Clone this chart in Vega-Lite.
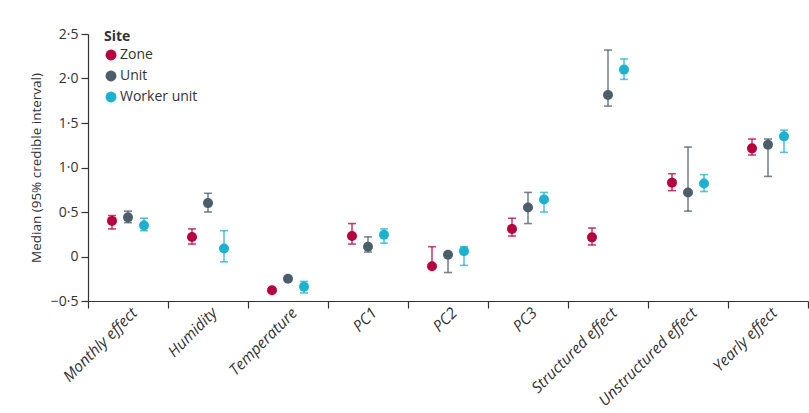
{
  "$schema": "https://vega.github.io/schema/vega-lite/v6.json",
  "autosize": "none",
  "width": 720,
  "height": 267,
  "padding": {"left": 88, "top": 34, "right": 1, "bottom": 112},
  "background": "white",
  "config": {
    "font": "Open Sans",
    "view": {"stroke": null},
    "axis": {"grid": false, "domainColor": "#333333", "tickColor": "#333333", "labelColor": "#333333", "titleColor": "#333333", "domainWidth": 1.2, "tickWidth": 1.2}
  },
  "data": {
    "values": [
      {"cat": "Monthly effect", "site": "Zone", "m": 0.40, "lo": 0.31, "hi": 0.46},
      {"cat": "Monthly effect", "site": "Unit", "m": 0.44, "lo": 0.38, "hi": 0.51},
      {"cat": "Monthly effect", "site": "Worker unit", "m": 0.35, "lo": 0.29, "hi": 0.43},
      {"cat": "Humidity", "site": "Zone", "m": 0.22, "lo": 0.14, "hi": 0.31},
      {"cat": "Humidity", "site": "Unit", "m": 0.60, "lo": 0.50, "hi": 0.71},
      {"cat": "Humidity", "site": "Worker unit", "m": 0.09, "lo": -0.06, "hi": 0.29},
      {"cat": "Temperature", "site": "Zone", "m": -0.38, "lo": -0.40, "hi": -0.36},
      {"cat": "Temperature", "site": "Unit", "m": -0.25, "lo": -0.27, "hi": -0.23},
      {"cat": "Temperature", "site": "Worker unit", "m": -0.34, "lo": -0.41, "hi": -0.28},
      {"cat": "PC1", "site": "Zone", "m": 0.23, "lo": 0.14, "hi": 0.37},
      {"cat": "PC1", "site": "Unit", "m": 0.11, "lo": 0.05, "hi": 0.22},
      {"cat": "PC1", "site": "Worker unit", "m": 0.245, "lo": 0.15, "hi": 0.31},
      {"cat": "PC2", "site": "Zone", "m": -0.11, "lo": -0.13, "hi": 0.11},
      {"cat": "PC2", "site": "Unit", "m": 0.02, "lo": -0.18, "hi": 0.04},
      {"cat": "PC2", "site": "Worker unit", "m": 0.06, "lo": -0.10, "hi": 0.11},
      {"cat": "PC3", "site": "Zone", "m": 0.31, "lo": 0.23, "hi": 0.43},
      {"cat": "PC3", "site": "Unit", "m": 0.55, "lo": 0.37, "hi": 0.72},
      {"cat": "PC3", "site": "Worker unit", "m": 0.64, "lo": 0.50, "hi": 0.72},
      {"cat": "Structured effect", "site": "Zone", "m": 0.215, "lo": 0.13, "hi": 0.32},
      {"cat": "Structured effect", "site": "Unit", "m": 1.815, "lo": 1.69, "hi": 2.32},
      {"cat": "Structured effect", "site": "Worker unit", "m": 2.10, "lo": 1.99, "hi": 2.22},
      {"cat": "Unstructured effect", "site": "Zone", "m": 0.83, "lo": 0.74, "hi": 0.93},
      {"cat": "Unstructured effect", "site": "Unit", "m": 0.72, "lo": 0.51, "hi": 1.23},
      {"cat": "Unstructured effect", "site": "Worker unit", "m": 0.82, "lo": 0.73, "hi": 0.92},
      {"cat": "Yearly effect", "site": "Zone", "m": 1.215, "lo": 1.14, "hi": 1.32},
      {"cat": "Yearly effect", "site": "Unit", "m": 1.256, "lo": 0.90, "hi": 1.32},
      {"cat": "Yearly effect", "site": "Worker unit", "m": 1.35, "lo": 1.17, "hi": 1.42}
    ]
  },
  "encoding": {
    "x": {
      "field": "cat", "type": "nominal", "sort": null, "title": null,
      "scale": {"paddingInner": 0, "paddingOuter": 0},
      "axis": {"labelAngle": -45, "labelFontStyle": "italic", "labelFontSize": 15.5, "tickBand": "extent", "tickSize": 7, "labelPadding": 2, "labelOffset": 6, "labelAlign": "right", "labelBaseline": "middle"}
    },
    "xOffset": {
      "field": "site", "type": "nominal", "sort": ["Zone", "Unit", "Worker unit"],
      "scale": {"paddingInner": 0, "paddingOuter": 2.3}
    },
    "color": {
      "field": "site", "type": "nominal", "sort": ["Zone", "Unit", "Worker unit"],
      "scale": {"domain": ["Zone", "Unit", "Worker unit"], "range": ["#b8003f", "#4b5f6b", "#1bb2d0"]},
      "legend": {
        "title": "Site", "orient": "none", "legendX": 16, "legendY": -4,
        "titleFontSize": 14, "titleFontWeight": "bold", "titleColor": "#333333",
        "labelFontSize": 14, "labelColor": "#333333", "symbolType": "circle", "symbolSize": 120,
        "symbolOpacity": 1, "symbolStrokeWidth": 0, "rowPadding": 7, "labelOffset": 2, "titlePadding": 4
      }
    }
  },
  "layer": [
    {
      "mark": {"type": "errorbar", "ticks": {"size": 8}, "thickness": 1.6, "opacity": 0.75},
      "encoding": {
        "y": {"field": "lo", "type": "quantitative", "title": "Median (95% credible interval)"},
        "y2": {"field": "hi"}
      }
    },
    {
      "mark": {"type": "point", "filled": true, "opacity": 1, "size": 100},
      "encoding": {
        "y": {
          "field": "m", "type": "quantitative",
          "title": "Median (95% credible interval)",
          "scale": {"domain": [-0.5, 2.5], "nice": false, "zero": false},
          "axis": {
            "values": [-0.5, 0, 0.5, 1, 1.5, 2, 2.5],
            "labelExpr": "datum.value == 0 ? '0' : replace(replace(format(datum.value, '.1f'), '.', '·'), '-', '−')",
            "labelFontSize": 14, "tickSize": 7, "labelPadding": 3,
            "titleFontSize": 13.5, "titleFontWeight": "normal", "titlePadding": 7
          }
        }
      }
    }
  ]
}
